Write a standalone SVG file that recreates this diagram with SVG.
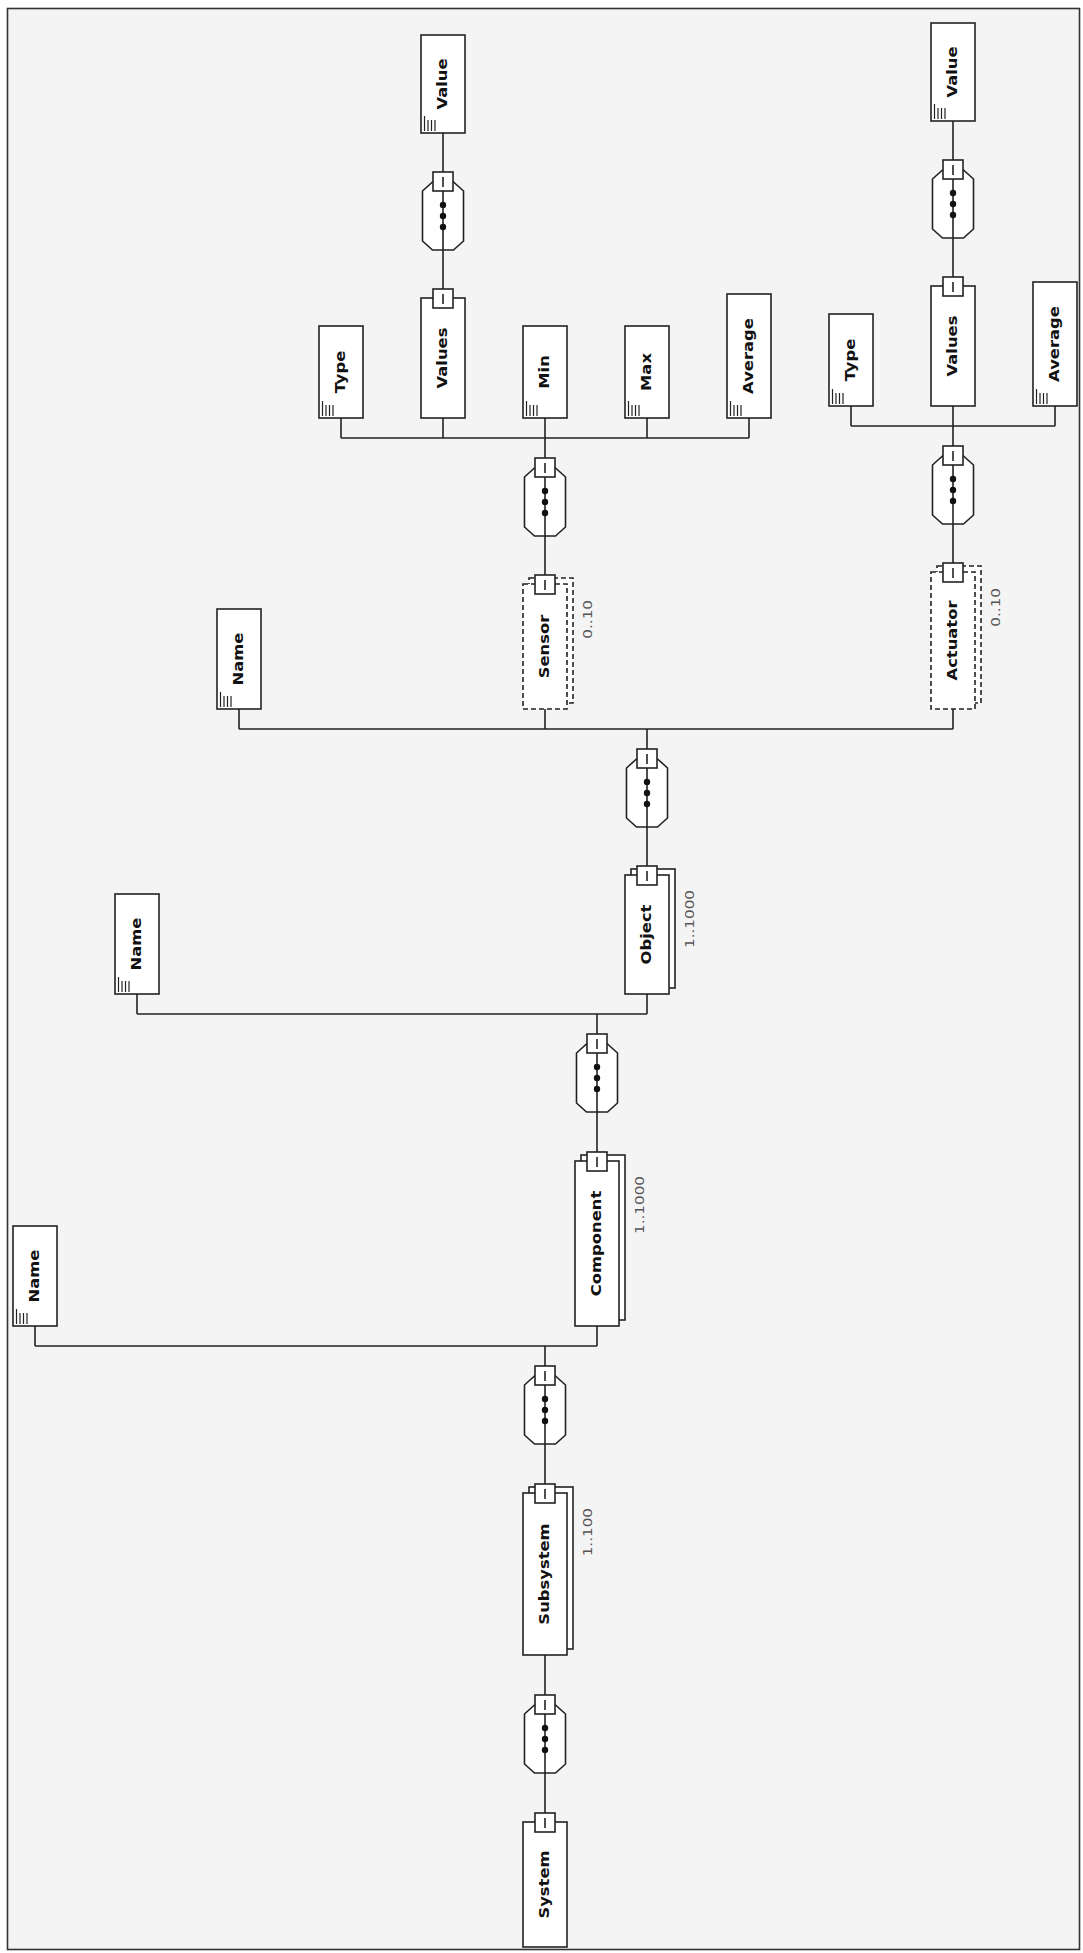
<svg xmlns="http://www.w3.org/2000/svg" xmlns:xlink="http://www.w3.org/1999/xlink" width="1083" height="1953" viewBox="0 0 1083 1953">
<style>
.bg{fill:#f4f4f4;stroke:#333;stroke-width:1.6}
.box{fill:#fff;stroke:#222;stroke-width:1.6}
.dash{stroke-dasharray:5 3}
.ln{fill:none;stroke:#222;stroke-width:1.6}
.hl{fill:none;stroke:#222;stroke-width:1.2}
.dot{fill:#111}
.t{font-family:"DejaVu Sans",Verdana,sans-serif;font-weight:bold;font-size:14px;fill:#111;text-anchor:middle}
.lab{font-family:"DejaVu Sans",Verdana,sans-serif;font-size:13px;fill:#555;text-anchor:end}
</style>
<defs>
<g id="tab"><rect class="box" x="-10" y="0" width="20" height="19"/><line class="ln" x1="0" y1="5" x2="0" y2="15"/></g>
<g id="oct"><polygon class="box" points="-10.5,0 10.5,0 20.5,9 20.5,59 10.5,68 -10.5,68 -20.5,59 -20.5,9"/><line class="ln" x1="0" y1="0" x2="0" y2="68"/><circle class="dot" cx="0" cy="23" r="3.2"/><circle class="dot" cx="0" cy="34" r="3.2"/><circle class="dot" cx="0" cy="45" r="3.2"/><use xlink:href="#tab" x="0" y="-10"/></g>
<g id="hatch"><line class="hl" x1="3.5" y1="-2" x2="3.5" y2="-17"/><line class="hl" x1="7" y1="-2" x2="7" y2="-13"/><line class="hl" x1="10.5" y1="-2" x2="10.5" y2="-13"/><line class="hl" x1="14" y1="-2" x2="14" y2="-13"/></g>
</defs>
<rect class="bg" x="7.5" y="8.5" width="1072" height="1941"/>
<g id="connectors">
<path class="ln" d="M545 1773V1813 M545 1655V1695 M545 1444V1484 M545 1346V1366 M35 1346H597 M35 1326V1346 M597 1326V1346 M597 1112V1152 M597 1014V1034 M137 1014H647 M137 994V1014 M647 994V1014 M647 827V866 M647 729V749 M239 729H953 M239 709V729 M545 709V729 M953 709V729 M545 536V575 M545 438V458 M341 438H749 M341 418V438 M443 418V438 M545 418V438 M647 418V438 M749 418V438 M443 250V289 M443 133V172 M953 524V563 M953 426V446 M851 426H1055 M851 406V426 M953 406V426 M1055 406V426 M953 238V277 M953 121V160"/>
</g>
<g id="seq-system"><use xlink:href="#oct" x="545" y="1705"/></g>
<g id="seq-subsystem"><use xlink:href="#oct" x="545" y="1376"/></g>
<g id="seq-component"><use xlink:href="#oct" x="597" y="1044"/></g>
<g id="seq-object"><use xlink:href="#oct" x="647" y="759"/></g>
<g id="seq-sensor"><use xlink:href="#oct" x="545" y="468"/></g>
<g id="seq-values1"><use xlink:href="#oct" x="443" y="182"/></g>
<g id="seq-actuator"><use xlink:href="#oct" x="953" y="456"/></g>
<g id="seq-values2"><use xlink:href="#oct" x="953" y="170"/></g>

<g id="system"><rect class="box" x="523" y="1822" width="44" height="125"/><use xlink:href="#tab" x="545" y="1813"/><text class="t" transform="translate(549,1884.5) rotate(-90) scale(1.17,1)">System</text></g>
<g id="subsystem"><rect class="box" x="529" y="1487" width="44" height="162"/><rect class="box" x="523" y="1493" width="44" height="162"/><use xlink:href="#tab" x="545" y="1484"/><text class="t" transform="translate(549,1574) rotate(-90) scale(1.17,1)">Subsystem</text><text class="lab" transform="translate(592,1508) rotate(-90) scale(1.17,1)">1..100</text></g>
<g id="name1"><rect class="box" x="13" y="1226" width="44" height="100"/><use xlink:href="#hatch" x="13" y="1326"/><text class="t" transform="translate(39,1276) rotate(-90) scale(1.17,1)">Name</text></g>
<g id="component"><rect class="box" x="581" y="1155" width="44" height="165"/><rect class="box" x="575" y="1161" width="44" height="165"/><use xlink:href="#tab" x="597" y="1152"/><text class="t" transform="translate(601,1243.5) rotate(-90) scale(1.17,1)">Component</text><text class="lab" transform="translate(644,1176) rotate(-90) scale(1.17,1)">1..1000</text></g>
<g id="name2"><rect class="box" x="115" y="894" width="44" height="100"/><use xlink:href="#hatch" x="115" y="994"/><text class="t" transform="translate(141,944) rotate(-90) scale(1.17,1)">Name</text></g>
<g id="object"><rect class="box" x="631" y="869" width="44" height="119"/><rect class="box" x="625" y="875" width="44" height="119"/><use xlink:href="#tab" x="647" y="866"/><text class="t" transform="translate(651,934.5) rotate(-90) scale(1.17,1)">Object</text><text class="lab" transform="translate(694,890) rotate(-90) scale(1.17,1)">1..1000</text></g>
<g id="name3"><rect class="box" x="217" y="609" width="44" height="100"/><use xlink:href="#hatch" x="217" y="709"/><text class="t" transform="translate(243,659) rotate(-90) scale(1.17,1)">Name</text></g>
<g id="sensor"><rect class="box dash" x="529" y="578" width="44" height="125"/><rect class="box dash" x="523" y="584" width="44" height="125"/><use xlink:href="#tab" x="545" y="575"/><text class="t" transform="translate(549,646.5) rotate(-90) scale(1.17,1)">Sensor</text><text class="lab" transform="translate(592,600) rotate(-90) scale(1.17,1)">0..10</text></g>
<g id="actuator"><rect class="box dash" x="937" y="566" width="44" height="137"/><rect class="box dash" x="931" y="572" width="44" height="137"/><use xlink:href="#tab" x="953" y="563"/><text class="t" transform="translate(957,640.5) rotate(-90) scale(1.17,1)">Actuator</text><text class="lab" transform="translate(1000,588) rotate(-90) scale(1.17,1)">0..10</text></g>
<g id="type1"><rect class="box" x="319" y="326" width="44" height="92"/><use xlink:href="#hatch" x="319" y="418"/><text class="t" transform="translate(345,372) rotate(-90) scale(1.17,1)">Type</text></g>
<g id="values1"><rect class="box" x="421" y="298" width="44" height="120"/><use xlink:href="#tab" x="443" y="289"/><text class="t" transform="translate(447,358) rotate(-90) scale(1.17,1)">Values</text></g>
<g id="min"><rect class="box" x="523" y="326" width="44" height="92"/><use xlink:href="#hatch" x="523" y="418"/><text class="t" transform="translate(549,372) rotate(-90) scale(1.17,1)">Min</text></g>
<g id="max"><rect class="box" x="625" y="326" width="44" height="92"/><use xlink:href="#hatch" x="625" y="418"/><text class="t" transform="translate(651,372) rotate(-90) scale(1.17,1)">Max</text></g>
<g id="average1"><rect class="box" x="727" y="294" width="44" height="124"/><use xlink:href="#hatch" x="727" y="418"/><text class="t" transform="translate(753,356) rotate(-90) scale(1.17,1)">Average</text></g>
<g id="value1"><rect class="box" x="421" y="35" width="44" height="98"/><use xlink:href="#hatch" x="421" y="133"/><text class="t" transform="translate(447,84) rotate(-90) scale(1.17,1)">Value</text></g>
<g id="type2"><rect class="box" x="829" y="314" width="44" height="92"/><use xlink:href="#hatch" x="829" y="406"/><text class="t" transform="translate(855,360) rotate(-90) scale(1.17,1)">Type</text></g>
<g id="values2"><rect class="box" x="931" y="286" width="44" height="120"/><use xlink:href="#tab" x="953" y="277"/><text class="t" transform="translate(957,346) rotate(-90) scale(1.17,1)">Values</text></g>
<g id="average2"><rect class="box" x="1033" y="282" width="44" height="124"/><use xlink:href="#hatch" x="1033" y="406"/><text class="t" transform="translate(1059,344) rotate(-90) scale(1.17,1)">Average</text></g>
<g id="value2"><rect class="box" x="931" y="23" width="44" height="98"/><use xlink:href="#hatch" x="931" y="121"/><text class="t" transform="translate(957,72) rotate(-90) scale(1.17,1)">Value</text></g>
</svg>
